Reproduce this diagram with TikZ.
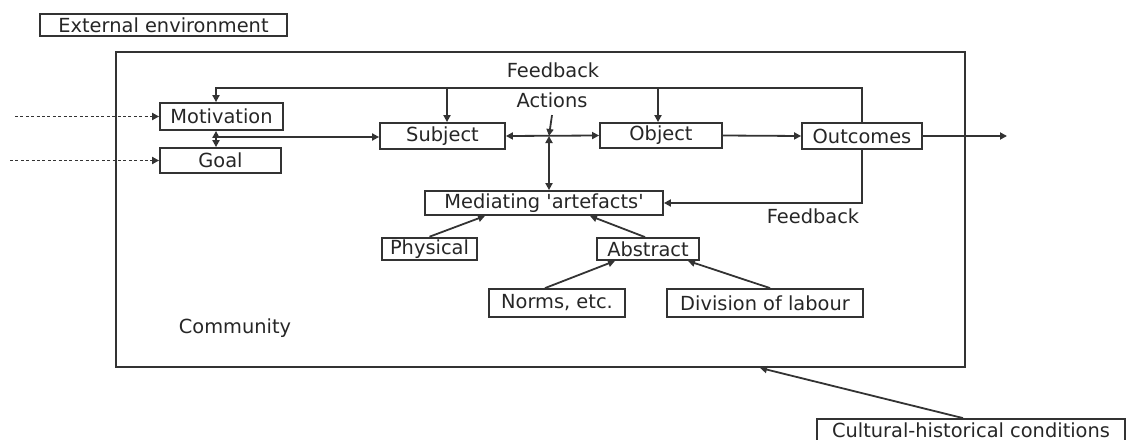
\documentclass[tikz,border=0pt]{standalone}
\usepackage{fontspec}
\setmainfont{DejaVu Sans}[Ligatures=TeXOff]
\usetikzlibrary{arrows.meta,calc}

\begin{document}
\begin{tikzpicture}[x=0.5pt, y=-0.5pt,
        font=\fontsize{9.7}{11}\selectfont, color=black!80, text=black!85,
        line width=0.9pt,
        >={Triangle[length=3.5pt,width=3.5pt]},
        box/.style={draw, inner sep=1pt},
        dots/.style={dash pattern=on 1.5pt off 1.2pt}]
        \useasboundingbox (0,0) rectangle (1129,439);
        % Boxes: name/x/y/width/height/text
        \foreach \n/\x/\y/\w/\h/\t in {
            ext/163.5/25/123.5/11/External environment,
            frame/540.5/209.5/424.5/157.5/{},
            mot/221.5/116.5/61.5/13.5/Motivation,
            goal/220.5/160.5/60.5/12.5/Goal,
            subj/442.5/136/62.5/13/Subject,
            obj/661/135.5/61/12.5/Object,
            outc/862/136/60/13/Outcomes,
            med/544/203/119/12/Mediating 'artefacts',
            phys/429.5/249/47.5/11/Physical,
            abs/648/249/51/11/Abstract,
            norms/557/303/68/14/{Norms, etc.},
            div/765/303/98/14/Division of labour,
            cult/971/430/154/11/Cultural-historical conditions} {
            \node[box, minimum width=\w pt, minimum height=\h pt] (\n) at (\x,\y) {\t};
        }
        % Free labels
        \node (fbtop) at (553,70) {Feedback};
        \node (actions) at (552,100) {Actions};
        \node (fblow) at (813,216) {Feedback};
        \node (comm) at (235,328) {Community};
        % Inputs from the external environment
        \coordinate (inmot) at (15,116.5);
        \coordinate (ingoal) at (10,160.5);
        \draw[->, dots] (inmot) -- (mot.west);
        \draw[->, dots] (ingoal) -- (goal.west);
        % Feedback loop on top
        \coordinate (fbL) at (216,88);
        \draw[->] (outc.north) |- (fbL) -- (fbL |- mot.north);
        \draw[->] (447,88) -- (447,0 |- subj.north);
        \draw[->] (658,88) -- (658,0 |- obj.north);
        % Motivation / goal to subject
        \coordinate (mg) at (216,137);
        \draw[<->] (mg |- mot.south) -- (mg |- goal.north);
        \draw[->] (mg) -- (mg -| subj.west);
        % Actions
        \coordinate (act) at (549,136);
        \draw[<->] (subj.east) -- (obj.west);
        \draw[->] (actions.south) -- (act);
        \draw[<->] (act) -- (act |- med.north);
        % Outcomes
        \coordinate (out) at (1007,136);
        \draw[->] (obj.east) -- (outc.west);
        \draw[->] (outc.east) -- (out);
        \draw[->] (outc.south) |- (med.east);
        % Artefacts
        \draw[->] (phys.north) -- ($(med.south)+(-59,0)$);
        \draw[->] ($(abs.north)+(-3,0)$) -- ($(med.south)+(46,0)$);
        \draw[->] ($(norms.north)+(-12,0)$) -- ($(abs.south)+(-33,0)$);
        \draw[->] ($(div.north)+(5,0)$) -- ($(abs.south)+(40,0)$);
        % Cultural-historical conditions
        \draw[->] ($(cult.north)+(-8,0)$) -- ($(frame.south)+(219.5,0)$);
    \end{tikzpicture}
\end{document}
